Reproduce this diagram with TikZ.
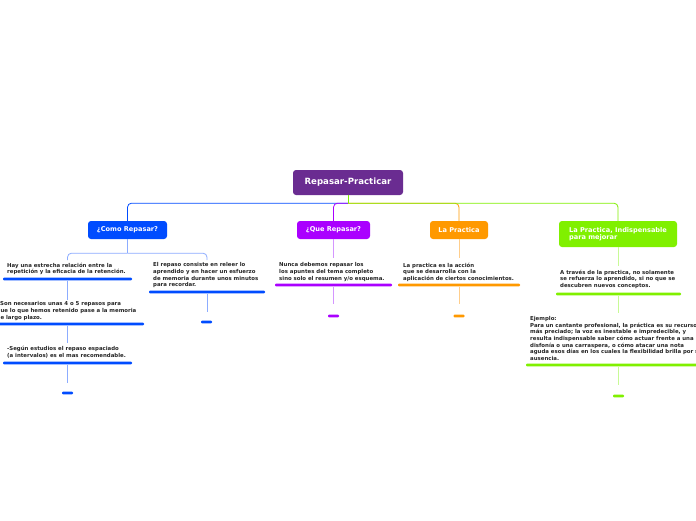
\documentclass[tikz,border=0pt]{standalone}
\usepackage{fontspec}
\setmainfont{DejaVu Sans}
\usepackage{tikz}

\definecolor{rootc}{RGB}{106,44,145}
\definecolor{cblue}{RGB}{0,76,255}
\definecolor{lblue}{RGB}{140,172,255}
\definecolor{cviolet}{RGB}{170,0,255}
\definecolor{lviolet}{RGB}{212,150,255}
\definecolor{corange}{RGB}{255,153,0}
\definecolor{lorange}{RGB}{255,206,140}
\definecolor{cgreen}{RGB}{128,240,0}
\definecolor{lgreen}{RGB}{200,250,150}

\begin{document}
\begin{tikzpicture}[x=1pt,y=-1pt,
  topic/.style={rounded corners=3pt, text=white, inner sep=0pt,
    font=\fontsize{6.6}{7.6}\selectfont\bfseries},
  leaf/.style={anchor=north west, align=left, inner sep=0pt,
    font=\fontsize{5.4}{6.7}\selectfont\bfseries, text=black!85},
  bar/.style={fill=#1, inner sep=0pt, minimum height=2.6pt, rounded corners=1pt},
  link/.style={draw=#1, line width=0.8pt, rounded corners=4pt}]

  \fill[white] (0,0) rectangle (696,520);
  \useasboundingbox (0,0) rectangle (696,520);

  % centre and main branches
  \node[topic, fill=rootc, minimum width=110pt, minimum height=25pt,
    font=\fontsize{8.6}{10}\selectfont\bfseries] (root) at (348,182.5) {Repasar-Practicar};
  \node[topic, fill=cblue, minimum width=79pt, minimum height=18pt] (como) at (127.5,230) {¿Como Repasar?};
  \node[topic, fill=cviolet, minimum width=73pt, minimum height=18pt] (que) at (333.5,230) {¿Que Repasar?};
  \node[topic, fill=corange, minimum width=58pt, minimum height=18pt] (prac) at (459,230) {La Practica};
  \node[topic, fill=cgreen, minimum width=118pt, minimum height=26pt, align=left] (indis) at (618,234)
    {La Practica, Indispensable\\para mejorar};

  \draw[link=cgreen] (root.south) -- ++(0,8) coordinate (hub);
  \draw[link=cblue] (hub) -| (como.north);
  \draw[link=cviolet] (hub) -| (que.north);
  \draw[link=corange] (hub) -| (prac.north);
  \draw[link=cgreen] (hub) -| (indis.north);

  % ¿Como Repasar?
  \node[leaf] (b1) at (7,262.5) {Hay una estrecha relación entre la\\repetición y la eficacia de la retención.};
  \node[bar=cblue, minimum width=129pt] (u1) at (67.5,279) {};
  \node[leaf] (b2) at (-3.5,301.5) {\hspace*{3.5pt}Son necesarios unas 4 o 5 repasos para\\que lo que hemos retenido pase a la memoria\\de largo plazo.};
  \node[bar=cblue, minimum width=146pt] (u2) at (71,324) {};
  \node[leaf] (b3) at (7,346) {-Según estudios el repaso espaciado\\(a intervalos) es el mas recomendable.};
  \node[bar=cblue, minimum width=129pt] (u3) at (67.5,363) {};
  \node[bar=cblue, minimum width=11pt] (e1) at (67.5,393) {};

  \node[leaf] (b4) at (153,262.5) {El repaso consiste en releer lo\\aprendido y en hacer un esfuerzo\\de memoria durante unos minutos\\para recordar.};
  \node[bar=cblue, minimum width=116pt] (u4) at (207,292) {};
  \node[bar=cblue, minimum width=11pt] (e4) at (206.5,322) {};

  \draw[link=lblue] (como.south) -- ++(0,14) coordinate (bfork);
  \draw[link=lblue] (bfork) -| (67.5,260);
  \draw[link=lblue] (bfork) -| (207,260);
  \draw[link=lblue] (u1.south -| 67.5,0) -- (67.5,300);
  \draw[link=lblue] (u2.south -| 67.5,0) -- (67.5,343);
  \draw[link=lblue] (u3.south) -- ++(0,18);
  \draw[link=lblue] (u4.south) -- ++(0,18);

  % ¿Que Repasar?
  \node[leaf] (q1) at (279,262.5) {Nunca debemos repasar los\\los apuntes del tema completo\\sino solo el resumen y/o esquema.};
  \node[bar=cviolet, minimum width=117pt] (uq) at (333.5,285) {};
  \node[bar=cviolet, minimum width=11pt] (eq) at (333.5,316) {};
  \draw[link=lviolet] (que.south) -- ++(0,19);
  \draw[link=lviolet] (uq.south) -- ++(0,17);

  % La Practica
  \node[leaf] (p1) at (403,262.5) {La practica es la acción\\que se desarrolla con la\\aplicación de ciertos conocimientos.};
  \node[bar=corange, minimum width=122pt] (up) at (459,285) {};
  \node[bar=corange, minimum width=11pt] (ep) at (459,316) {};
  \draw[link=lorange] (prac.south) -- ++(0,19);
  \draw[link=lorange] (up.south) -- ++(0,17);

  % La Practica, Indispensable
  \node[leaf] (g1) at (560,269.5) {A través de la practica, no solamente\\se refuerza lo aprendido, si no que se\\descubren nuevos conceptos.};
  \node[bar=cgreen, minimum width=125pt] (ug1) at (618.5,294) {};
  \node[leaf] (g2) at (530,316) {Ejemplo:\\Para un cantante profesional, la práctica es su recurso\\más preciado; la voz es inestable e impredecible, y\\resulta indispensable saber cómo actuar frente a una\\disfonía o una carraspera, o cómo atacar una nota\\aguda esos días en los cuales la flexibilidad brilla por su\\ausencia.};
  \node[bar=cgreen, minimum width=180pt] (ug2) at (616,365) {};
  \node[bar=cgreen, minimum width=11pt] (eg) at (618.5,396) {};
  \draw[link=lgreen] (indis.south) -- ++(0,19);
  \draw[link=lgreen] (ug1.south -| indis.south) -- ++(0,17);
  \draw[link=lgreen] (ug2.south -| indis.south) -- ++(0,18);
\end{tikzpicture}
\end{document}
